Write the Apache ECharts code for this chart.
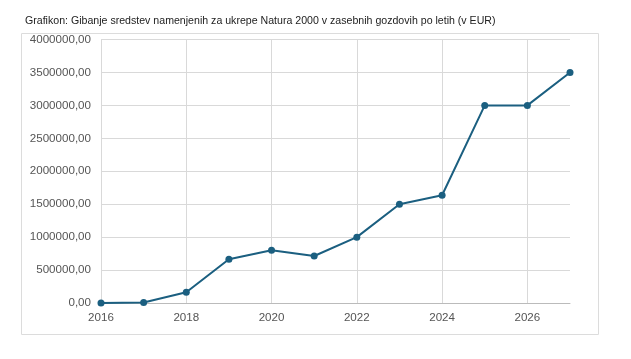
<!DOCTYPE html>
<html><head><meta charset="utf-8">
<script src="https://cdn.jsdelivr.net/npm/echarts@6/dist/echarts.min.js"></script>
<style>html,body{margin:0;padding:0;background:#fff}#c{width:631px;height:359px}</style>
</head><body><div id="c"></div>
<script>
const years = [2016, 2017, 2018, 2019, 2020, 2021, 2022, 2023, 2024, 2025, 2026, 2027];
const values = [0, 8000, 162000, 665000, 800000, 713000, 1000000, 1500000, 1635000, 3000000, 3000000, 3500000];
const titleText = 'Grafikon: Gibanje sredstev namenjenih za ukrepe Natura 2000 v zasebnih gozdovih po letih (v EUR)';

const chart = echarts.init(document.getElementById('c'));
chart.setOption({
  animation: false,
  title: {
    text: titleText, left: 20, top: 11,
    textStyle: {fontFamily: 'Liberation Sans, Arial', fontSize: 10.6, fontWeight: 'normal', color: '#222'}
  },
  graphic: [{
    type: 'rect', shape: {x: 21.5, y: 33.5, width: 577, height: 301},
    style: {fill: 'none', stroke: '#dcdcdc', lineWidth: 1}, silent: true
  }],
  grid: {left: 101, right: 61, top: 39.5, bottom: 56, containLabel: false},
  xAxis: {
    type: 'value', min: 2016, max: 2027, interval: 2,
    axisLine: {show: true, onZero: false, lineStyle: {color: '#bbbbbb'}},
    axisTick: {show: false},
    axisLabel: {color: '#555', fontFamily: 'Liberation Sans, Arial', fontSize: 11.6, margin: 9,
      formatter: v => String(v), showMaxLabel: false},
    splitLine: {show: true, showMaxLine: false, lineStyle: {color: '#d9d9d9'}}
  },
  yAxis: {
    type: 'value', min: 0, max: 4000000, interval: 500000,
    axisLine: {show: false}, axisTick: {show: false},
    axisLabel: {color: '#555', fontFamily: 'Liberation Sans, Arial', fontSize: 11.6, margin: 10,
      formatter: v => v.toFixed(2).replace('.', ',')},
    splitLine: {show: true, lineStyle: {color: '#d9d9d9'}}
  },
  series: [{
    type: 'line',
    data: years.map((y, i) => [y, values[i]]),
    symbol: 'circle', symbolSize: 7,
    lineStyle: {color: '#1b5f80', width: 2},
    itemStyle: {color: '#1b5f80'}
  }]
});
</script></body></html>
